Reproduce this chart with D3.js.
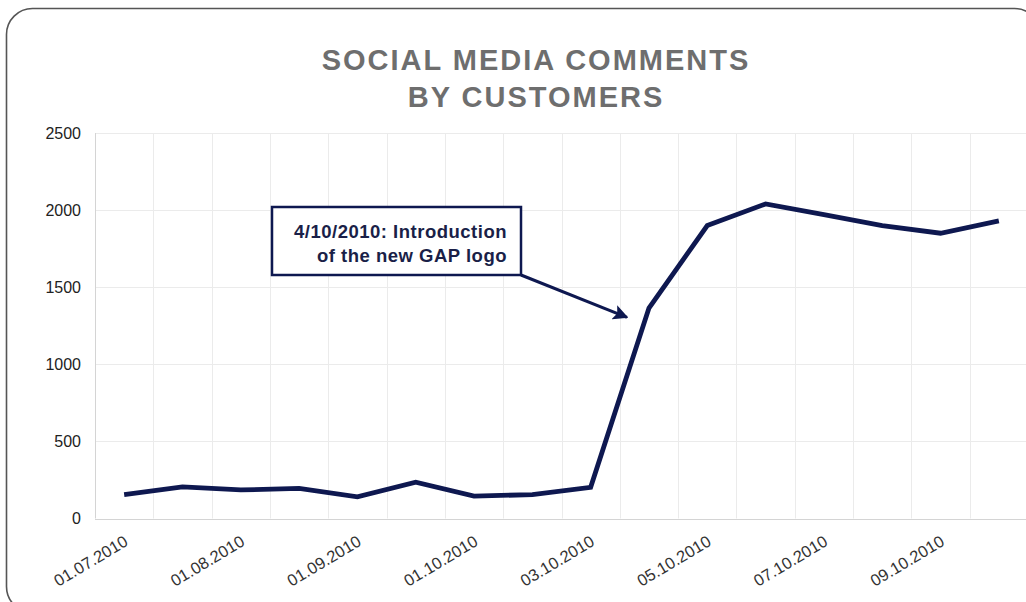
<!DOCTYPE html>
<html>
<head>
<meta charset="utf-8">
<script src="https://cdn.jsdelivr.net/npm/d3@7"></script>
<style>
  html, body { margin: 0; padding: 0; background: #fff; }
  svg { display: block; }
</style>
</head>
<body>
<script>
// chart data
var categories = ['01.07.2010', '15.07.2010', '01.08.2010', '15.08.2010', '01.09.2010',
  '15.09.2010', '01.10.2010', '02.10.2010', '03.10.2010', '04.10.2010', '05.10.2010',
  '06.10.2010', '07.10.2010', '08.10.2010', '09.10.2010', '10.10.2010'];
var comments = [155, 205, 185, 195, 140, 235, 145, 155, 202, 1365, 1900, 2040, 1970, 1900, 1850, 1930];
var shownLabels = ['01.07.2010', '01.08.2010', '01.09.2010', '01.10.2010',
  '03.10.2010', '05.10.2010', '07.10.2010', '09.10.2010'];
var yTicks = [0, 500, 1000, 1500, 2000, 2500];
var titleLines = ['SOCIAL MEDIA COMMENTS', 'BY CUSTOMERS'];
var noteLines = ['4/10/2010: Introduction', 'of the new GAP logo'];

var width = 1026;
var height = 602;
var font = 'Helvetica, Arial, "Liberation Sans", sans-serif';
var navy = '#0e1850';

var svg = d3.select('body').append('svg')
  .attr('width', width)
  .attr('height', height);

// rounded frame, runs off the right and bottom edge
svg.append('rect')
  .attr('x', 6.5).attr('y', 8.5)
  .attr('width', 1034).attr('height', 604)
  .attr('rx', 26).attr('ry', 26)
  .attr('fill', '#fff')
  .attr('stroke', '#555')
  .attr('stroke-width', 1.6);

var x = d3.scaleBand()
  .domain(categories)
  .range([95, 1028])
  .padding(0);

var y = d3.scaleLinear()
  .domain([0, 2500])
  .range([518.5, 133]);

function cx(c) { return x(c) + x.bandwidth() / 2; }

// grid
var grid = svg.append('g');
grid.selectAll('.vline')
  .data(categories.slice(1))
  .enter().append('line')
  .attr('x1', function (d) { return Math.round(x(d)) + 0.5; })
  .attr('x2', function (d) { return Math.round(x(d)) + 0.5; })
  .attr('y1', y(2500)).attr('y2', y(0))
  .attr('stroke', '#ebebeb').attr('stroke-width', 1);

grid.selectAll('.hline')
  .data(yTicks.slice(1))
  .enter().append('line')
  .attr('x1', x.range()[0]).attr('x2', x.range()[1])
  .attr('y1', function (d) { return Math.round(y(d)) + 0.5; })
  .attr('y2', function (d) { return Math.round(y(d)) + 0.5; })
  .attr('stroke', '#ebebeb').attr('stroke-width', 1);

// axis lines
svg.append('line')
  .attr('x1', 95.5).attr('x2', 95.5)
  .attr('y1', y(2500)).attr('y2', y(0))
  .attr('stroke', '#d4d4d4');
svg.append('line')
  .attr('x1', 95).attr('x2', x.range()[1])
  .attr('y1', Math.round(y(0)) + 0.5).attr('y2', Math.round(y(0)) + 0.5)
  .attr('stroke', '#d4d4d4');

// y axis labels
var yAxis = d3.axisLeft(y).tickValues(yTicks).tickFormat(d3.format('d')).tickSize(0).tickPadding(14);
var yg = svg.append('g')
  .attr('transform', 'translate(95,0)')
  .call(yAxis);
yg.select('.domain').remove();
yg.selectAll('text')
  .attr('font-family', font)
  .attr('font-size', 16)
  .attr('fill', '#222');

// x axis labels, rotated
var xAxis = d3.axisBottom(x).tickValues(shownLabels).tickSize(0).tickPadding(0);
var xg = svg.append('g')
  .attr('transform', 'translate(0,' + y(0) + ')')
  .call(xAxis);
xg.select('.domain').remove();
xg.selectAll('text')
  .attr('font-family', font)
  .attr('font-size', 16.5)
  .attr('fill', '#333')
  .attr('dy', null)
  .attr('text-anchor', 'end')
  .attr('transform', 'translate(5,26) rotate(-31)');

// title
svg.append('g').selectAll('text')
  .data(titleLines)
  .enter().append('text')
  .attr('x', 536)
  .attr('y', function (d, i) { return 70 + i * 37; })
  .attr('text-anchor', 'middle')
  .attr('font-family', font)
  .attr('font-weight', 'bold')
  .attr('font-size', 29)
  .attr('letter-spacing', 2)
  .attr('fill', '#6e6e6e')
  .text(function (d) { return d; });

// series line
var line = d3.line()
  .x(function (d, i) { return cx(categories[i]); })
  .y(function (d) { return y(d); });

svg.append('path')
  .datum(comments)
  .attr('d', line)
  .attr('fill', 'none')
  .attr('stroke', navy)
  .attr('stroke-width', 4.8)
  .attr('stroke-linejoin', 'miter');

// annotation box + arrow
var defs = svg.append('defs');
defs.append('marker')
  .attr('id', 'arrow')
  .attr('viewBox', '0 0 10 10')
  .attr('refX', 9).attr('refY', 5)
  .attr('markerWidth', 5).attr('markerHeight', 5)
  .attr('orient', 'auto')
  .attr('markerUnits', 'strokeWidth')
  .append('path')
  .attr('d', 'M0,0 L10,5 L0,10 L2,5 Z')
  .attr('fill', navy);

var note = svg.append('g');
note.append('line')
  .attr('x1', 521).attr('y1', 275)
  .attr('x2', cx('04.10.2010') - 22).attr('y2', y(1305))
  .attr('stroke', navy)
  .attr('stroke-width', 3)
  .attr('marker-end', 'url(#arrow)');

note.append('rect')
  .attr('x', 272).attr('y', 207)
  .attr('width', 249).attr('height', 68)
  .attr('fill', '#fff')
  .attr('stroke', navy)
  .attr('stroke-width', 2.5);

note.selectAll('text')
  .data(noteLines)
  .enter().append('text')
  .attr('x', 507)
  .attr('y', function (d, i) { return 238 + i * 24; })
  .attr('text-anchor', 'end')
  .attr('font-family', font)
  .attr('font-weight', 'bold')
  .attr('font-size', 18.5)
  .attr('letter-spacing', 0.5)
  .attr('fill', '#1a1f48')
  .text(function (d) { return d; });
</script>
</body>
</html>
